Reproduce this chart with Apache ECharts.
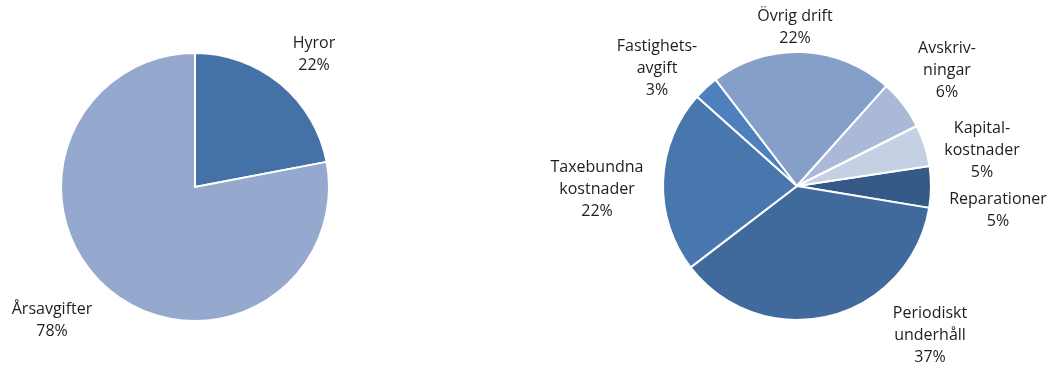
<!DOCTYPE html>
<html><head><meta charset="utf-8">
<script src="https://cdn.jsdelivr.net/npm/echarts@6/dist/echarts.min.js"></script>
<style>html,body{margin:0;padding:0;background:#fff}#c{width:1049px;height:366px}</style>
</head><body><div id="c"></div>
<script>
// Data
const leftNames = ['Hyror', 'Årsavgifter'];
const leftValues = [22, 78];
const rightNames = ['Reparationer', 'Periodiskt\nunderhåll', 'Taxebundna\nkostnader', 'Fastighets-\navgift', 'Övrig drift', 'Avskriv-\nningar', 'Kapital-\nkostnader'];
const rightValues = [5, 37, 22, 3, 22, 6, 5];

// Styles / layout
const leftColors = ['#4572a6', '#95a9cf'];
const rightColors = ['#355a87', '#416a9c', '#4877ae', '#4d80bd', '#859fc9', '#aab9d7', '#c5d0e3'];
const leftLabelPos = [[314, 54], [52, 320]];
const rightLabelPos = [[998, 210], [930, 335], [597, 189], [657, 68], [795, 27], [947, 70], [982, 150]];

const font = '"Open Sans", "Noto Sans", sans-serif';
function fmt(p) { return p.name + '\n' + Math.round(p.percent) + '%'; }
function mk(names, values, colors, pos, center, startAngle) {
  return {
    type: 'pie', center: center, radius: 134, startAngle: startAngle, clockwise: true,
    animation: false, silent: true,
    data: names.map((n, i) => ({ name: n, value: values[i], itemStyle: { color: colors[i] } })),
    itemStyle: { borderColor: '#fff', borderWidth: 2 },
    label: { show: true, position: 'outside', formatter: fmt, fontFamily: font, fontSize: 16, lineHeight: 22, color: '#1e1e1e', align: 'center', overflow: 'none', width: null, bleedMargin: 0 },
    labelLine: { show: false },
    labelLayout: function (params) {
      const p = pos[params.dataIndex];
      return { x: p[0], y: p[1], align: 'center', verticalAlign: 'middle', hideOverlap: false };
    }
  };
}
const chart = echarts.init(document.getElementById('c'), null, { renderer: 'canvas' });
chart.setOption({
  backgroundColor: '#fff',
  series: [
    mk(leftNames, leftValues, leftColors, leftLabelPos, [195, 187], 90),
    mk(rightNames, rightValues, rightColors, rightLabelPos, [797, 186], 8.6)
  ]
});
</script></body></html>
